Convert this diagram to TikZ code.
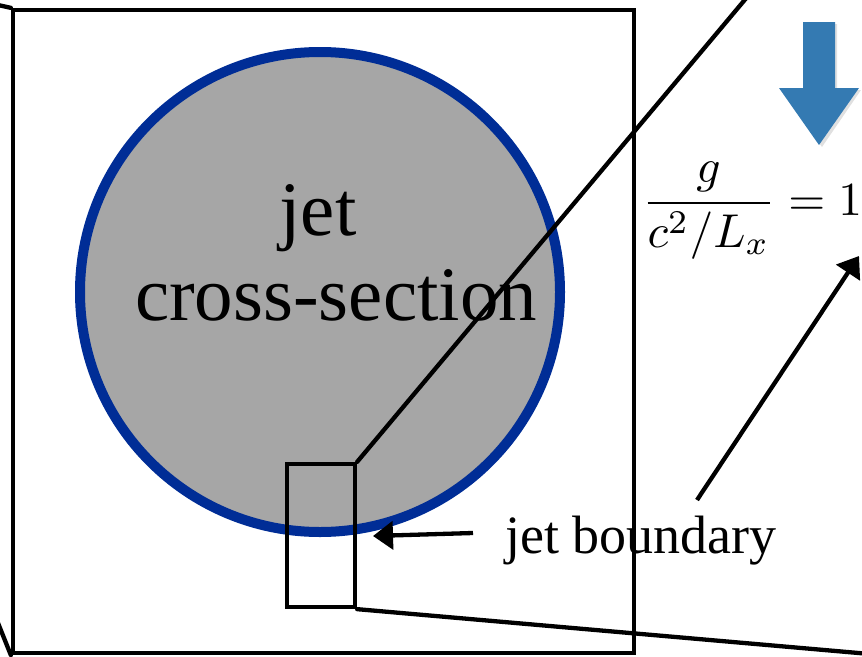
\documentclass[tikz,border=0pt]{standalone}
\usepackage{fontspec}
\setmainfont{Liberation Serif}
\usetikzlibrary{arrows.meta}
\definecolor{jetblue}{RGB}{0,45,150}
\definecolor{jetgray}{RGB}{166,166,166}
\definecolor{flowblue}{RGB}{52,122,178}
\tikzset{
  edge/.style={line width=4.3pt, line join=round, line cap=round},
  pointer/.style={line width=4.3pt, -{Triangle[length=20pt,width=28pt]}},
  label/.style={inner sep=0pt, anchor=base},
}
\begin{document}
\begin{tikzpicture}[x=1pt,y=-1pt]
\useasboundingbox (0,0) rectangle (862,656);
% outer box (front face of a cut-off block)
\node[draw, line width=4.3pt, minimum width=621pt, minimum height=643pt, inner sep=0pt] (frame) at (323.5,331.5) {};
\coordinate (backTL) at (-2,5);
\coordinate (backBL) at (-2,623);
\draw[edge] (frame.north west) -- (backTL);
\draw[edge] (frame.south west) -- (backBL);
% jet cross-section
\node[circle, draw=jetblue, fill=jetgray, line width=10pt, minimum size=480pt, inner sep=0pt] (jet) at (320,292) {};
\node[label, font=\fontsize{77}{85}\selectfont] (jettxt) at (318,235) {jet};
\node[label, font=\fontsize{77}{85}\selectfont] (cstxt) at (336,320) {cross-section};
% zoom box
\node[draw, line width=4.3pt, minimum width=68pt, minimum height=143pt, inner sep=0pt] (zoombox) at (321,535.5) {};
\coordinate (zoomtop) at (748,-4);
\coordinate (zoombot) at (870,654);
\draw[edge] (zoombox.north east) -- (zoomtop);
\draw[edge] (zoombox.south east) -- (zoombot);
% jet boundary label and arrows
\node[inner sep=0pt, anchor=base west, font=\fontsize{54}{60}\selectfont] (bnd) at (505,553) {jet boundary};
\coordinate (bndtail) at (473,533);
\coordinate (bndtip) at (373,536);
\draw[pointer] (bndtail) -- (bndtip);
\coordinate (up0) at (697,500);
\coordinate (up1) at (859,256);
\draw[pointer] (up0) -- (up1);
% ratio
\node[inner sep=0pt, anchor=base west, scale=4.75, transform shape] (ratio) at (641,215) {$\displaystyle\frac{g}{c^2/L_x}=1$};
% flow arrow
\fill[black!35, opacity=0.35] (805,24) -- (837,24) -- (837,90) -- (861,90) -- (822,147) -- (781,90) -- (805,90) -- cycle;
\fill[flowblue] (803,22) -- (835,22) -- (835,88) -- (859,88) -- (819,145) -- (779,88) -- (803,88) -- cycle;
\end{tikzpicture}
\end{document}
